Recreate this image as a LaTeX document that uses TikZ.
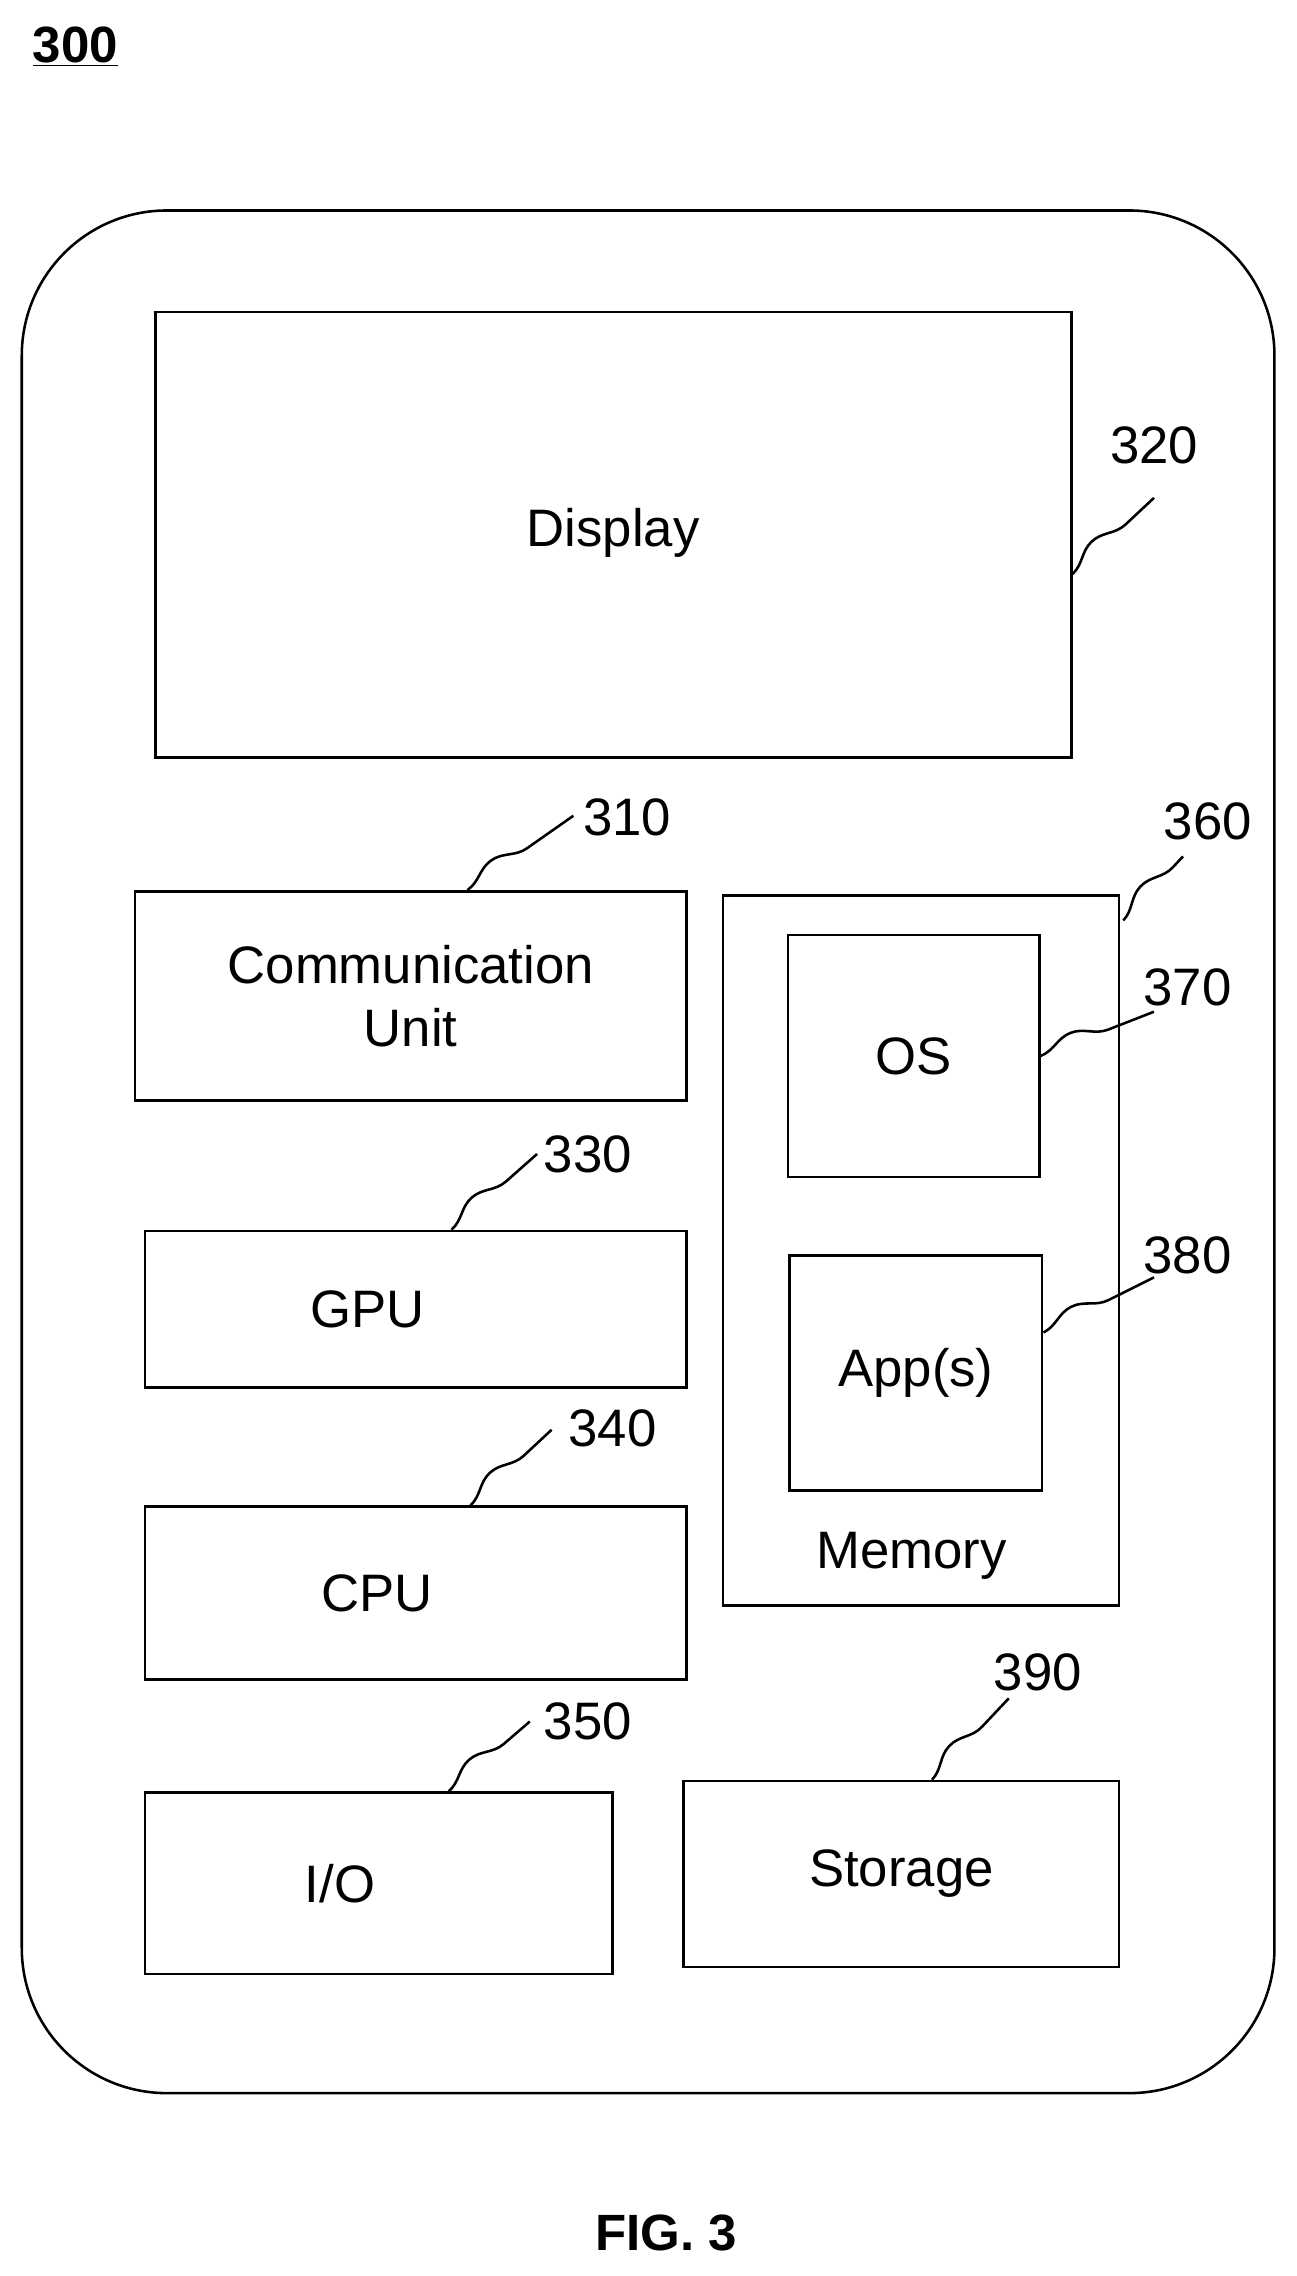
\documentclass[tikz,border=0pt]{standalone}
\usepackage{fontspec}
\setmainfont{Liberation Sans}
\usetikzlibrary{positioning, calc, decorations.pathmorphing}
\begin{document}
\begin{tikzpicture}[x=0.03cm, y=-0.03cm, line width=1.5pt,
  box/.style={draw, align=center, font=\fontsize{31}{37}\selectfont},
  refnum/.style={font=\fontsize{31}{37}\selectfont},
  lead/.style={decorate, decoration={snake, segment length=2.4cm, amplitude=0.22cm}}]
  \useasboundingbox (0,0) rectangle (893,1568);
  \node (fig) [font=\bfseries\fontsize{30}{36}\selectfont] at (52,32) {\underline{300}};
  \draw[rounded corners=3cm] (15,145) rectangle (878,1442);
  % boxes
  \node (disp) [box, minimum width=18.93cm, minimum height=9.21cm] at (422.5,368.5) {\raisebox{0.3cm}{Display}};
  \node (comm) [box, minimum width=11.4cm, minimum height=4.32cm] at (283,686) {Communication\\Unit};
  \node (mem) [draw, minimum width=8.19cm, minimum height=14.67cm] at (634.5,861.5) {};
  \node (memtxt) [refnum] at (628,1072) {Memory};
  \node (os) [box, minimum width=5.19cm, minimum height=5.01cm] at (629.5,727.5) {OS};
  \node (apps) [box, minimum width=5.22cm, minimum height=4.86cm] at (631,946) {App(s)};
  \node (gpu) [box, minimum width=11.19cm, minimum height=3.24cm] at (286.5,902) {\hspace*{-2cm}GPU};
  \node (cpu) [box, minimum width=11.19cm, minimum height=3.57cm] at (286.5,1097.5) {\hspace*{-1.6cm}CPU};
  \node (io) [box, minimum width=9.66cm, minimum height=3.75cm] at (261,1297.5) {\hspace*{-1.6cm}I/O};
  \node (stor) [box, minimum width=9cm, minimum height=3.84cm] at (621,1291) {Storage};
  % reference numerals
  \node (n320) [refnum] at (795,307) {320};
  \node (n310) [refnum] at (432,563) {310};
  \node (n360) [refnum] at (832,566) {360};
  \node (n370) [refnum] at (818,680) {370};
  \node (n380) [refnum] at (818,865) {380};
  \node (n330) [refnum] at (405,795) {330};
  \node (n340) [refnum] at (422,984) {340};
  \node (n350) [refnum] at (405,1186) {350};
  \node (n390) [refnum] at (715,1152) {390};
  % lead lines
  \draw[lead] ($(disp.east)+(0,27)$) -- (795,343);
  \draw[lead] ($(comm.north west)+(230,0)$) -- (395,562);
  \draw[lead] ($(mem.north east)+(2,18)$) -- (815,590);
  \draw[lead] (os.east) -- (795,697);
  \draw[lead] ($(apps.east)+(0,-28)$) -- (795,880);
  \draw[lead] ($(gpu.north west)+(212,0)$) -- (370,795);
  \draw[lead] ($(cpu.north west)+(225,0)$) -- (380,985);
  \draw[lead] ($(io.north west)+(210,0)$) -- (365,1186);
  \draw[lead] ($(stor.north west)+(172,0)$) -- (695,1170);
  \node (caption) [font=\bfseries\fontsize{30}{36}\selectfont] at (459,1538) {FIG. 3};
\end{tikzpicture}
\end{document}
